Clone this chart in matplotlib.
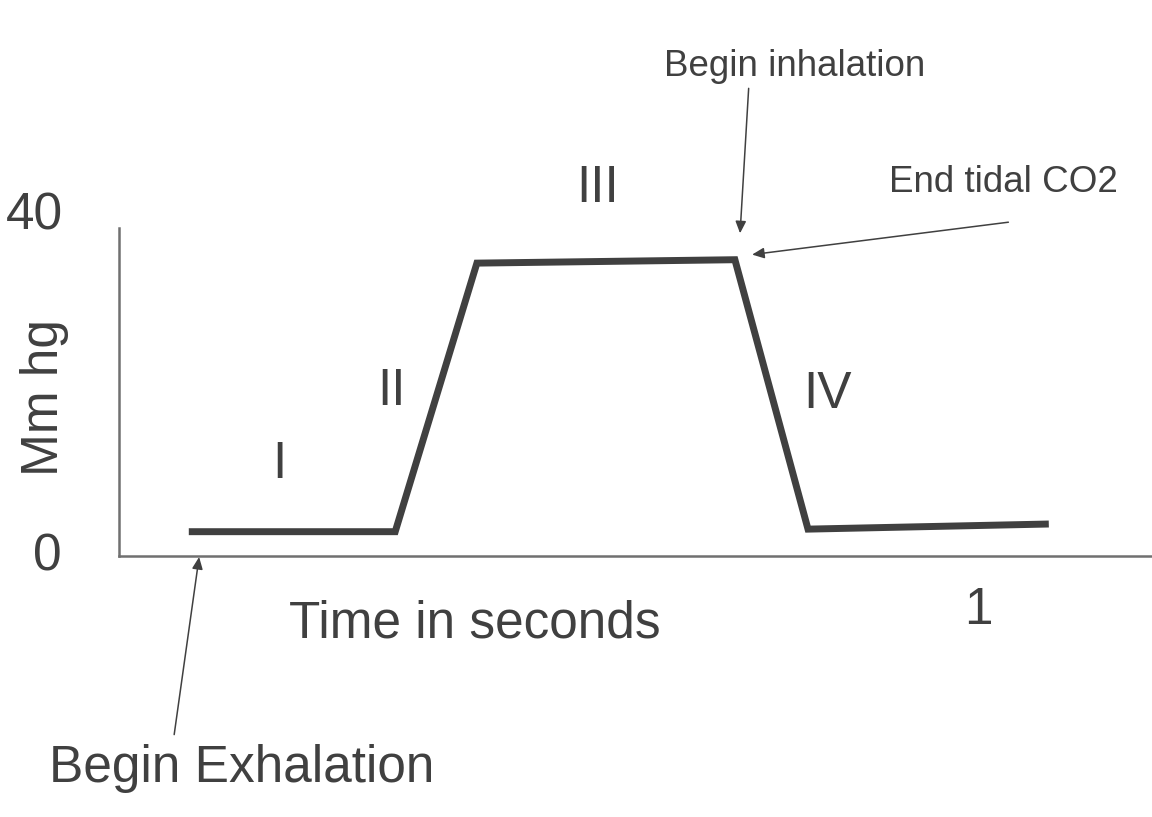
import matplotlib.pyplot as plt

# Capnogram: CO2 (mm Hg) against time (s), one breath.
time_s = [0.08, 0.32, 0.415, 0.715, 0.80, 1.08]
co2_mmhg = [2.5, 2.5, 34.0, 34.4, 2.8, 3.4]

# Phase labels and where they sit (time, mm Hg baseline)
phases = ['I', 'II', 'III', 'IV']
phase_t = [0.185, 0.316, 0.555, 0.823]
phase_y = [8.8, 17.4, 41.2, 17.0]

ytick_values = [0, 40]
xtick_values = [1]

ink = '#404040'
big = 37
small = 26.5

plt.rcParams['font.family'] = ['Liberation Sans', 'DejaVu Sans']

fig = plt.figure(figsize=(11.52, 8.17), dpi=100)
fig.patch.set_facecolor('white')
ax = fig.add_axes([119 / 1152, 261 / 817, 1033 / 1152, 328 / 817])
ax.set_xlim(-0.00116, 1.2)
ax.set_ylim(-0.352, 38.12)

# Hand drawn style axes: only the left and bottom lines, no ticks.
for side in ['top', 'right']:
    ax.spines[side].set_visible(False)
for side in ['left', 'bottom']:
    ax.spines[side].set_color('#707070')
    ax.spines[side].set_linewidth(1.8)
ax.set_xticks([])
ax.set_yticks([])

# The waveform
ax.plot(time_s, co2_mmhg, color=ink, linewidth=5, solid_joinstyle='miter',
        solid_capstyle='butt', clip_on=False, zorder=3)

# Tick labels written by hand, like the original
ax.text(-0.100, 38.0, str(ytick_values[1]), fontsize=big, color=ink,
        ha='center', va='baseline')
ax.text(-0.085, -2.0, str(ytick_values[0]), fontsize=big, color=ink,
        ha='center', va='baseline')
ax.text(0.998, -8.33, str(xtick_values[0]), fontsize=big, color=ink,
        ha='center', va='baseline')

# Axis titles
ax.text(0.413, -9.97, 'Time in seconds', fontsize=big, color=ink,
        ha='center', va='baseline')
ax.text(-0.072, 18.2, 'Mm hg', fontsize=big, color=ink, rotation=90,
        rotation_mode='anchor', ha='center', va='baseline')

# Phase numbers
for name, t, y in zip(phases, phase_t, phase_y):
    ax.text(t, y, name, fontsize=big, color=ink, ha='center', va='baseline')

# Annotations with arrows
ax.text(0.141, -26.9, 'Begin Exhalation', fontsize=big, color=ink,
        ha='center', va='baseline')
ax.text(0.785, 56.0, 'Begin inhalation', fontsize=small, color=ink,
        ha='center', va='baseline')
ax.text(1.027, 42.35, 'End tidal CO2', fontsize=small, color=ink,
        ha='center', va='baseline')

arrow = dict(arrowstyle='-|>,head_length=0.36,head_width=0.16', color=ink,
             lw=1.1, shrinkA=0, shrinkB=0, mutation_scale=20)
ax.annotate('', xy=(0.092, -0.47), xytext=(0.063, -21.3),
            arrowprops=arrow, annotation_clip=False)
ax.annotate('', xy=(0.721, 37.5), xytext=(0.731, 54.5),
            arrowprops=arrow, annotation_clip=False)
ax.annotate('', xy=(0.735, 35.0), xytext=(1.033, 38.8),
            arrowprops=arrow, annotation_clip=False)

fig.savefig('out.png', dpi=100, facecolor='white')
